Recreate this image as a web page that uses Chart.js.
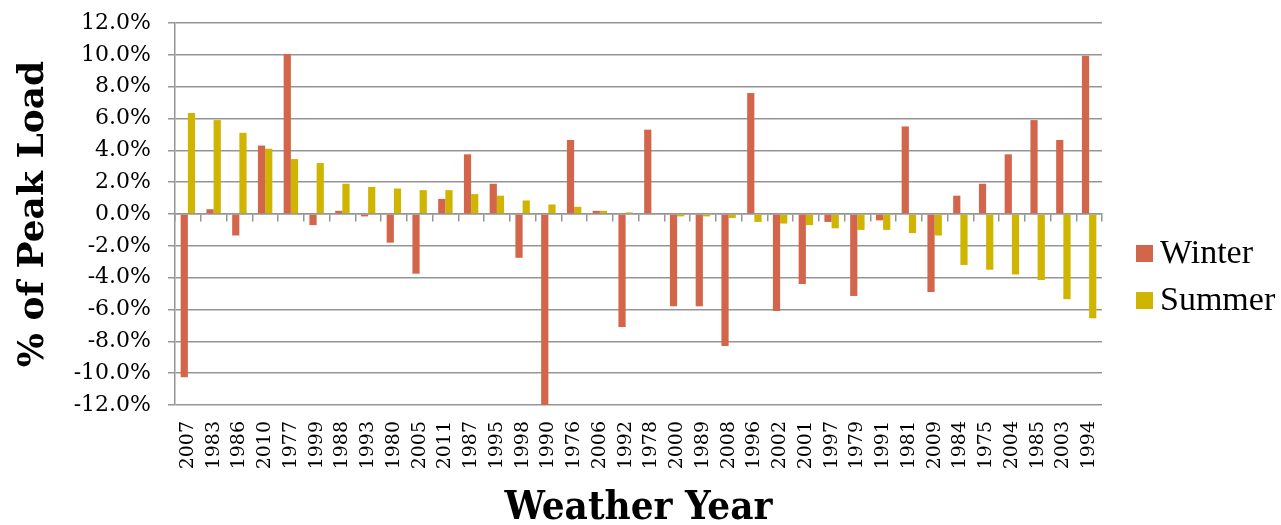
<!DOCTYPE html>
<html>
<head>
<meta charset="utf-8">
<script src="https://cdn.jsdelivr.net/npm/chart.js@4"></script>
<style>
  html, body { margin: 0; padding: 0; background: #ffffff; }
  #wrap { width: 1281px; height: 525px; position: relative; }
</style>
</head>
<body>
<div id="wrap"><canvas id="c" width="1281" height="525"></canvas></div>
<script>
const categories = ["2007","1983","1986","2010","1977","1999","1988","1993","1980","2005","2011","1987","1995","1998","1990","1976","2006","1992","1978","2000","1989","2008","1996","2002","2001","1997","1979","1991","1981","2009","1984","1975","2004","1985","2003","1994"];
const winterValues = [-10.25, 0.3, -1.35, 4.3, 10.05, -0.7, 0.2, -0.15, -1.8, -3.75, 0.95, 3.75, 1.9, -2.75, -12.0, 4.65, 0.2, -7.1, 5.3, -5.8, -5.8, -8.3, 7.6, -6.1, -4.4, -0.5, -5.15, -0.4, 5.5, -4.9, 1.15, 1.9, 3.75, 5.9, 4.65, 9.95];
const summerValues = [6.35, 5.9, 5.1, 4.1, 3.45, 3.2, 1.9, 1.7, 1.6, 1.5, 1.5, 1.25, 1.15, 0.85, 0.6, 0.45, 0.2, 0.1, 0.05, -0.15, -0.15, -0.25, -0.5, -0.6, -0.7, -0.9, -1.0, -1.0, -1.2, -1.35, -3.2, -3.5, -3.8, -4.15, -5.35, -6.55];
const yTickValues = [-12, -10, -8, -6, -4, -2, 0, 2, 4, 6, 8, 10, 12];
const seriesNames = ["Winter", "Summer"];
const seriesColors = ["#D3654B", "#CFB400"];

const gridColor = "#959595";

const legendPlugin = {
  id: 'sideLegend',
  afterDraw(chart) {
    const ctx = chart.ctx;
    ctx.save();
    ctx.font = '34px "Liberation Serif"';
    ctx.textBaseline = 'middle';
    ctx.textAlign = 'left';
    chart.data.datasets.forEach((ds, i) => {
      const cy = 253 + i * 47;
      ctx.fillStyle = ds.backgroundColor;
      ctx.fillRect(1136, cy - 8, 17, 17);
      ctx.fillStyle = '#000';
      ctx.fillText(ds.label, 1160, cy + 1);
    });
    ctx.restore();
  }
};

new Chart(document.getElementById('c'), {
  type: 'bar',
  data: {
    labels: categories,
    datasets: [
      { label: seriesNames[0], data: winterValues, backgroundColor: seriesColors[0], borderWidth: 0, barPercentage: 1.0, categoryPercentage: 0.56 },
      { label: seriesNames[1], data: summerValues, backgroundColor: seriesColors[1], borderWidth: 0, barPercentage: 1.0, categoryPercentage: 0.56 }
    ]
  },
  options: {
    responsive: false,
    animation: false,
    devicePixelRatio: 1,
    layout: { padding: { top: 23, right: 179, bottom: 0, left: 0 } },
    plugins: { legend: { display: false }, tooltip: { enabled: false } },
    scales: {
      x: {
        type: 'category',
        position: { y: 0 },
        offset: true,
        grid: { offset: true, drawOnChartArea: false, drawTicks: true, tickLength: 7, color: gridColor, lineWidth: 1.5 },
        border: { display: true, color: gridColor, width: 1.5 },
        ticks: { display: false }
      },
      xb: {
        type: 'category',
        position: 'bottom',
        offset: true,
        grid: { display: false, drawTicks: false },
        border: { display: false },
        ticks: { minRotation: 90, maxRotation: 90, autoSkip: false, padding: 16, color: '#000', font: { family: '"DejaVu Serif"', size: 19 } },
        title: { display: true, text: 'Weather Year', color: '#000', font: { family: '"DejaVu Serif Condensed", "DejaVu Serif"', weight: 'bold', size: 40, lineHeight: 0.8 }, padding: { top: 0, bottom: 0 } },
        afterFit(scale) { scale.height = 120; }
      },
      y: {
        type: 'linear',
        min: -12, max: 12,
        afterBuildTicks(scale) { scale.ticks = yTickValues.map(v => ({ value: v })); },
        grid: { color: gridColor, lineWidth: 1.5, drawTicks: true, tickLength: 7 },
        border: { display: true, color: gridColor, width: 1.5 },
        ticks: { padding: 17, color: '#000', font: { family: '"DejaVu Serif"', size: 22 }, callback: v => Number(v).toFixed(1) + '%' },
        title: { display: true, text: '% of Peak Load', color: '#000', font: { family: '"DejaVu Serif"', weight: 'bold', size: 36 }, padding: { top: 12, bottom: 0 } },
        afterFit(scale) { scale.width = 175; scale.paddingTop = 5; scale.paddingBottom = 5; }
      }
    }
  },
  plugins: [legendPlugin]
});
</script>
</body>
</html>
